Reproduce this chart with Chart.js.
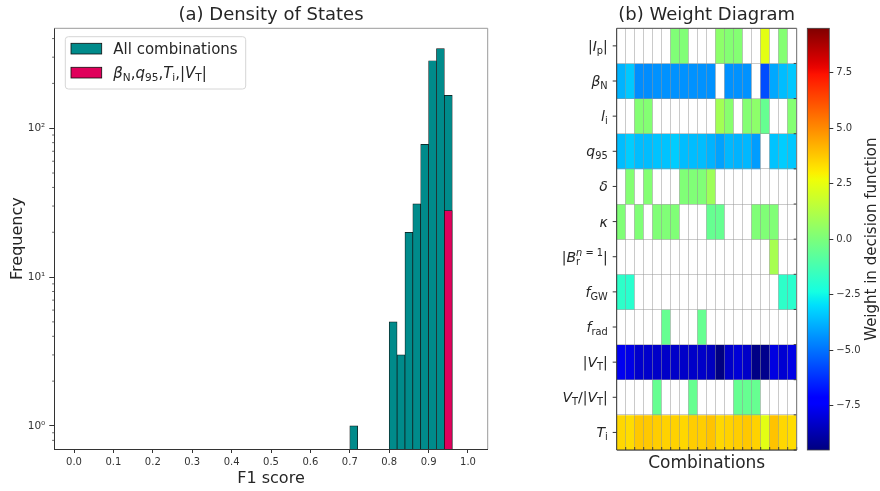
<!DOCTYPE html>
<html lang="en">
<head>
<meta charset="utf-8">
<title>Density of States / Weight Diagram</title>
<script src="https://cdn.jsdelivr.net/npm/chart.js@4.4.1/dist/chart.umd.min.js"></script>
<style>
  html, body { margin: 0; padding: 0; background: #fff; }
  #fig { position: relative; width: 880px; height: 491px; overflow: hidden; }
  #fig canvas { position: absolute; top: 0; }
  #hist { left: 0; }
  #heat { left: 540px; }
  #cbar { left: 800px; }
</style>
</head>
<body>
<div id="fig">
  <canvas id="hist" width="560" height="491"></canvas>
  <canvas id="heat" width="262" height="491"></canvas>
  <canvas id="cbar" width="80" height="491"></canvas>
</div>
<script>
// ---- (a) histogram of F1 scores, bins 0.02 wide ----
const binCenters = [0.71, 0.81, 0.83, 0.85, 0.87, 0.89, 0.91, 0.93, 0.95];
const allCounts = [1, 5, 3, 20, 31, 78, 284, 343, 166];
const subsetCenters = [0.95];
const subsetCounts = [28];
const f1Ticks = [0, 0.1, 0.2, 0.3, 0.4, 0.5, 0.6, 0.7, 0.8, 0.9, 1.0];
const freqMajor = [1, 10, 100];
const freqMinor = [0.8, 0.9, 2, 3, 4, 5, 6, 7, 8, 9, 20, 30, 40, 50, 60, 70, 80, 90, 200, 300, 400];

// legend entries, written as math segments: [text, style]
const legendLabels = [
  [["All combinations", "r"]],
  [["β", "i"], ["N", "sb"], [",", "r"], ["q", "i"], ["95", "sb"], [",", "r"],
   ["T", "i"], ["i", "sb"], [",", "r"], ["|", "r"], ["V", "i"], ["T", "sb"], ["|", "r"]],
];

// ---- (b) weights of each feature in the 20 decision functions (null = unused) ----
const featureLabels = [
  [["|", "r"], ["I", "i"], ["p", "sb"], ["|", "r"]],
  [["β", "i"], ["N", "sb"]],
  [["l", "i"], ["i", "sb"]],
  [["q", "i"], ["95", "sb"]],
  [["δ", "i"]],
  [["κ", "i"]],
  [["|", "r"], ["B", "i"], ["r", "sb"], ["", "stack"], ["n", "spi"], [" = 1", "sp"], ["|", "r"]],
  [["f", "i"], ["GW", "sb"]],
  [["f", "i"], ["rad", "sb"]],
  [["|", "r"], ["V", "i"], ["T", "sb"], ["|", "r"]],
  [["V", "i"], ["T", "sb"], ["/|", "r"], ["V", "i"], ["T", "sb"], ["|", "r"]],
  [["T", "i"], ["i", "sb"]],
];
const combos = Array.from({ length: 20 }, (_, i) => String(i + 1));
const n = null;
const wIp   = [n, n, n, n, n, n, 0.1, 0.1, n, n, n, 0.4, 0.2, 0.2, n, n, 2.4, n, 0.2, n];
const wBeta = [-3.8, -3.4, -4.5, -4.5, -4.4, -4.4, -4.4, -4.4, -4.4, -4.4, -4.4, n, -4.4, -4.4, -4.4, n, -5.7, -4.0, -3.6, -3.4];
const wLi   = [n, n, 0.2, 0.2, n, n, n, n, n, n, n, 0.9, 0.3, n, 0.2, 0.4, -0.5, n, n, 0.2];
const wQ95  = [-3.6, -3.3, -3.6, -3.6, -3.5, -3.5, -3.3, -3.6, -3.6, -3.6, -3.8, -4.1, -3.7, -3.8, -3.7, -4.2, n, -3.5, -3.3, -3.4];
const wDelta = [n, 0.2, n, 0.2, n, n, n, 0.1, 0.1, 0.1, 0.8, n, n, n, n, n, n, n, n, n];
const wKappa = [0.1, n, 0.1, n, 0.1, 0.1, 0.1, n, n, n, -0.5, -0.5, n, n, n, 0.1, 0.1, 0.1, n, n];
const wBr   = [n, n, n, n, n, n, n, n, n, n, n, n, n, n, n, n, n, 1.0, n, n];
const wFgw  = [-1.8, -1.9, n, n, n, n, n, n, n, n, n, n, n, n, n, n, n, n, -1.8, -1.9];
const wFrad = [n, n, n, n, n, -0.5, n, n, n, -0.5, n, n, n, n, n, n, n, n, n, n];
const wVt   = [-7.66, -7.83, -8.24, -8.24, -8.31, -8.31, -8.31, -8.31, -8.31, -8.31, -8.47, -9.46, -8.31, -8.07, -8.31, -9.4, -9.3, -7.9, -8.15, -7.83];
const wSign = [n, n, n, n, -0.5, n, n, n, -0.5, n, n, n, n, -0.5, -0.5, -0.5, n, n, n, n];
const wTi   = [3.46, 3.36, 3.77, 3.77, 3.67, 3.56, 3.56, 3.46, 3.67, 3.67, 3.86, 3.46, 3.56, 3.67, 3.77, 3.56, 2.4, 3.86, 3.46, 3.36];
const weights = [wIp, wBeta, wLi, wQ95, wDelta, wKappa, wBr, wFgw, wFrad, wVt, wSign, wTi];
const W_MIN = -9.5, W_MAX = 9.5;
const cbarTicks = [-7.5, -5, -2.5, 0, 2.5, 5, 7.5];

// ---------------------------------------------------------------------------
const FONT = "'DejaVu Sans', sans-serif";
const INK = "#262626";
Chart.defaults.font.family = FONT;
Chart.defaults.color = "#333";
Chart.defaults.animation = false;

// matplotlib's "jet" colormap
function jet(v) {
  const t = Math.min(1, Math.max(0, (v - W_MIN) / (W_MAX - W_MIN)));
  const seg = (pts) => {
    for (let i = 1; i < pts.length; i++) {
      if (t <= pts[i][0]) {
        const [x0, y0] = pts[i - 1], [x1, y1] = pts[i];
        return y0 + (y1 - y0) * (t - x0) / (x1 - x0);
      }
    }
    return pts[pts.length - 1][1];
  };
  const r = seg([[0, 0], [0.35, 0], [0.66, 1], [0.89, 1], [1, 0.5]]);
  const g = seg([[0, 0], [0.125, 0], [0.375, 1], [0.64, 1], [0.91, 0], [1, 0]]);
  const b = seg([[0, 0.5], [0.11, 1], [0.34, 1], [0.65, 0], [1, 0]]);
  return `rgb(${Math.round(r * 255)},${Math.round(g * 255)},${Math.round(b * 255)})`;
}

// small mathtext-like writer: italic / upright, sub- and superscripts
function drawMath(ctx, segs, x, y, size, align) {
  const items = [];
  let pen = 0, scriptStart = null, scriptEnd = 0;
  for (const [t, s] of segs) {
    if (s === "stack") { scriptEnd = pen; pen = scriptStart; continue; }
    const script = s[0] === "s";
    if (script) { if (scriptStart === null) scriptStart = pen; }
    else { pen = Math.max(pen, scriptEnd); scriptStart = null; scriptEnd = 0; }
    const fs = script ? size * 0.7 : size;
    const font = (s.endsWith("i") ? "italic " : "") + fs + "px " + FONT;
    ctx.font = font;
    const dy = s.startsWith("sb") ? size * 0.2 : s.startsWith("sp") ? -size * 0.4 : 0;
    items.push({ t, font, x: pen, dy });
    pen += ctx.measureText(t).width;
  }
  pen = Math.max(pen, scriptEnd);
  const x0 = align === "right" ? x - pen : align === "center" ? x - pen / 2 : x;
  ctx.save();
  ctx.textAlign = "left";
  ctx.textBaseline = "alphabetic";
  ctx.fillStyle = INK;
  for (const it of items) { ctx.font = it.font; ctx.fillText(it.t, x0 + it.x, y + size * 0.36 + it.dy); }
  ctx.restore();
}

function line(ctx, x0, y0, x1, y1, color, w) {
  ctx.beginPath();
  ctx.moveTo(x0, y0); ctx.lineTo(x1, y1);
  ctx.strokeStyle = color; ctx.lineWidth = w || 1;
  ctx.stroke();
}

// ---- (a) Density of States ----
const histDecor = {
  id: "histDecor",
  afterDraw(chart) {
    const { ctx, chartArea: a, scales } = chart;
    // top / right spines
    line(ctx, a.left, a.top, a.right, a.top, "#9a9a9a");
    line(ctx, a.right, a.top, a.right, a.bottom, "#9a9a9a");
    // minor log ticks
    freqMinor.forEach((v) => {
      const y = scales.y.getPixelForValue(v);
      if (y >= a.top && y <= a.bottom) line(ctx, a.left - 2.2, y, a.left, y, "#444", 0.8);
    });
    // legend inside the axes
    const bx = a.left + 11, by = a.top + 8.4, bw = 180.4, bh = 52.3;
    ctx.save();
    ctx.beginPath();
    ctx.roundRect(bx, by, bw, bh, 3);
    ctx.fillStyle = "rgba(255,255,255,0.85)";
    ctx.fill();
    ctx.strokeStyle = "#d6d6d6";
    ctx.lineWidth = 1;
    ctx.stroke();
    chart.data.datasets.forEach((ds, i) => {
      const sy = by + 6.6 + i * 24;
      ctx.fillStyle = ds.backgroundColor;
      ctx.fillRect(bx + 5.7, sy, 30.7, 10.7);
      ctx.strokeStyle = "#111";
      ctx.lineWidth = 0.8;
      ctx.strokeRect(bx + 5.7, sy, 30.7, 10.7);
      drawMath(ctx, legendLabels[i], bx + 48, sy + 5.4, 15, "left");
    });
    ctx.restore();
  },
};

const supDigits = { 0: "⁰", 1: "¹", 2: "²", 3: "³" };

new Chart(document.getElementById("hist"), {
  type: "bar",
  data: {
    datasets: [
      {
        label: "All combinations",
        data: binCenters.map((x, i) => ({ x, y: allCounts[i] })),
        backgroundColor: "#008b8b", borderColor: "#111", borderWidth: 0.7,
        grouped: false, barPercentage: 1, categoryPercentage: 1, order: 2,
      },
      {
        label: "βN,q95,Ti,|VT|",
        data: subsetCenters.map((x, i) => ({ x, y: subsetCounts[i] })),
        backgroundColor: "#e0005b", borderColor: "#111", borderWidth: 0.7,
        grouped: false, barPercentage: 1, categoryPercentage: 1, order: 1,
      },
    ],
  },
  options: {
    responsive: false, devicePixelRatio: 1,
    layout: { padding: { left: 0, right: 72.3, top: 0, bottom: 0 } },
    plugins: {
      legend: { display: false }, tooltip: { enabled: false },
      title: {
        display: true, text: "(a) Density of States", fullSize: false, color: INK,
        font: { size: 18, weight: "normal" }, padding: { top: 5, bottom: 1.7 },
      },
    },
    scales: {
      x: {
        type: "linear", min: -0.05, max: 1.05, offset: false,
        afterBuildTicks: (ax) => { ax.ticks = f1Ticks.map((v) => ({ value: v })); },
        afterFit: (ax) => { ax.height = 42; },
        ticks: { autoSkip: false, maxRotation: 0, padding: 3, font: { size: 10 }, callback: (v) => v.toFixed(1) },
        grid: { offset: false, drawOnChartArea: false, tickLength: 4, tickColor: "#333" },
        border: { color: "#333" },
        title: { display: true, text: "F1 score", color: INK, font: { size: 16 }, padding: { top: 0, bottom: 2.4 } },
      },
      y: {
        type: "logarithmic", min: 0.748, max: 469,
        afterBuildTicks: (ax) => { ax.ticks = freqMajor.map((v) => ({ value: v, major: true })); },
        afterFit: (ax) => { ax.width = 54.3; },
        ticks: { autoSkip: false, padding: 4, font: { size: 10.5 }, callback: (v) => "10" + supDigits[Math.round(Math.log10(v))] },
        grid: { drawOnChartArea: false, tickLength: 5, tickColor: "#333" },
        border: { color: "#333" },
        title: { display: true, text: "Frequency", color: INK, font: { size: 16 }, padding: { top: 8.4 } },
      },
    },
  },
  plugins: [histDecor],
});

// ---- (b) Weight Diagram ----
const GRID = "rgba(150,150,150,0.5)";
const heatDecor = {
  id: "heatDecor",
  afterDraw(chart) {
    const { ctx, chartArea: a, scales } = chart;
    const colW = (a.right - a.left) / combos.length;
    // short inward ticks on the cell boundaries (bottom and right)
    combos.forEach((_, i) => {
      const x = scales.x.getPixelForValue(i) + colW / 2;
      line(ctx, x, a.bottom, x, a.bottom - 3, "#333", 0.9);
    });
    featureLabels.forEach((segs, r) => {
      const yb = scales.y.getPixelForValue(r + 1);
      line(ctx, a.right, yb, a.right - 3, yb, "#333", 0.9);
      const yc = scales.y.getPixelForValue(r + 0.5);
      line(ctx, a.left - 4, yc, a.left, yc, "#333", 1);
      drawMath(ctx, segs, a.left - 9, yc, 14, "right");
    });
    // frame
    line(ctx, a.left, a.top, a.right, a.top, "#555");
    line(ctx, a.right, a.top, a.right, a.bottom, "#777");
    line(ctx, a.left, a.top, a.left, a.bottom, "#333");
    line(ctx, a.left, a.bottom, a.right, a.bottom, "#333");
  },
};

new Chart(document.getElementById("heat"), {
  type: "bar",
  data: {
    labels: combos,
    datasets: weights.map((row, r) => ({
      label: "row" + r,
      data: row.map(() => 1),
      backgroundColor: row.map((w) => (w === null ? "#ffffff" : jet(w))),
      borderWidth: 0, barPercentage: 1, categoryPercentage: 1, stack: "cells",
    })),
  },
  options: {
    responsive: false, devicePixelRatio: 1,
    layout: { padding: { left: 0, right: 5.3, top: 0, bottom: 0 } },
    plugins: {
      legend: { display: false }, tooltip: { enabled: false },
      title: {
        display: true, text: "(b) Weight Diagram", fullSize: false, color: INK,
        font: { size: 18, weight: "normal" }, padding: { top: 5, bottom: 1.7 },
      },
    },
    scales: {
      x: {
        stacked: true,
        afterFit: (ax) => { ax.height = 41; },
        ticks: { display: false },
        // grid layer above the cells
        grid: { offset: true, color: GRID, drawTicks: false, z: 1 },
        border: { display: false },
        title: { display: true, text: "Combinations", color: INK, font: { size: 17 }, padding: { top: 0, bottom: 17 } },
      },
      y: {
        stacked: true, reverse: true, min: 0, max: featureLabels.length,
        afterFit: (ax) => { ax.width = 76.7; },
        ticks: { display: false, stepSize: 1 },
        grid: { color: GRID, drawTicks: false, z: 1 },
        border: { display: false },
      },
    },
  },
  plugins: [heatDecor],
});

// ---- colorbar ----
function jetGradient(chart) {
  const a = chart.chartArea;
  if (!a) return "transparent";
  const g = chart.ctx.createLinearGradient(0, a.bottom, 0, a.top);
  for (let i = 0; i <= 64; i++) g.addColorStop(i / 64, jet(W_MIN + (W_MAX - W_MIN) * i / 64));
  return g;
}

const cbarDecor = {
  id: "cbarDecor",
  afterDraw(chart) {
    const { ctx, chartArea: a } = chart;
    ctx.save();
    ctx.strokeStyle = "#444";
    ctx.lineWidth = 0.8;
    ctx.strokeRect(a.left, a.top, a.right - a.left, a.bottom - a.top);
    ctx.translate(72, (a.top + a.bottom) / 2);
    ctx.rotate(-Math.PI / 2);
    ctx.font = "15px " + FONT;
    ctx.fillStyle = INK;
    ctx.textAlign = "center";
    ctx.textBaseline = "middle";
    ctx.fillText("Weight in decision function", 0, 0);
    ctx.restore();
  },
};

new Chart(document.getElementById("cbar"), {
  type: "bar",
  data: {
    labels: [""],
    datasets: [{
      data: [[W_MIN, W_MAX]],
      backgroundColor: (c) => jetGradient(c.chart),
      borderWidth: 0, barPercentage: 1, categoryPercentage: 1,
    }],
  },
  options: {
    responsive: false, devicePixelRatio: 1,
    layout: { padding: { left: 7.3, right: 0, top: 28.3, bottom: 41 } },
    plugins: { legend: { display: false }, tooltip: { enabled: false } },
    scales: {
      x: { display: false },
      y: {
        position: "right", min: W_MIN, max: W_MAX,
        afterBuildTicks: (ax) => { ax.ticks = cbarTicks.map((v) => ({ value: v })); },
        afterFit: (ax) => { ax.width = 50.7; },
        ticks: { autoSkip: false, padding: 3, font: { size: 10 }, callback: (v) => (v < 0 ? "\u2212" : "") + Math.abs(v).toFixed(1) },
        grid: { drawOnChartArea: false, tickLength: 4, tickColor: "#333" },
        border: { display: false },
      },
    },
  },
  plugins: [cbarDecor],
});
</script>
</body>
</html>
